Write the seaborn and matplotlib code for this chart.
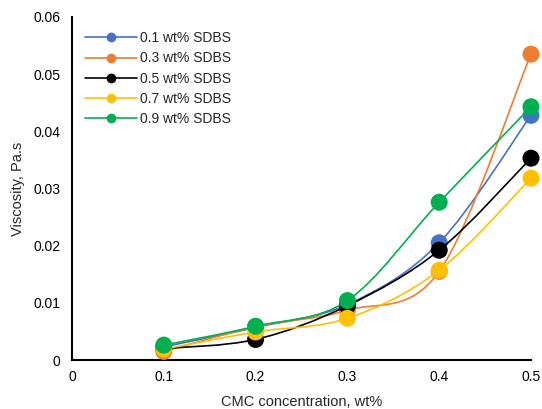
import numpy as np
import pandas as pd
import matplotlib
matplotlib.use("Agg")
import matplotlib.pyplot as plt
import seaborn as sns
from matplotlib.path import Path
from matplotlib.patches import PathPatch
from matplotlib.lines import Line2D

cmc = [0.1, 0.2, 0.3, 0.4, 0.5]
series_names = ["0.1 wt% SDBS", "0.3 wt% SDBS", "0.5 wt% SDBS", "0.7 wt% SDBS", "0.9 wt% SDBS"]
sdbs_01 = [0.0023, 0.0057, 0.0097, 0.0205, 0.0428]
sdbs_03 = [0.0015, 0.0058, 0.0087, 0.0155, 0.0535]
sdbs_05 = [0.0020, 0.0036, 0.0095, 0.0192, 0.0353]
sdbs_07 = [0.0019, 0.0049, 0.0073, 0.0157, 0.0318]
sdbs_09 = [0.0026, 0.0059, 0.0104, 0.0276, 0.0443]
colors = ["#4472C4", "#ED7D31", "#000000", "#FFC000", "#00B050"]

values = [sdbs_01, sdbs_03, sdbs_05, sdbs_07, sdbs_09]
df = pd.DataFrame({
    "x": np.tile(cmc, len(series_names)),
    "y": np.concatenate(values),
    "series": np.repeat(series_names, len(cmc)),
})

sns.set_style("white")
plt.rcParams["font.family"] = ["Liberation Sans", "DejaVu Sans"]

fig = plt.figure(figsize=(5.42, 4.09), dpi=100)
ax = fig.add_axes([72 / 542, 1 - 360 / 409, (531 - 72) / 542, (360 - 17) / 409])


def smooth_path(xs, ys):
    pts = np.column_stack([xs, ys])
    n = len(pts)
    verts = [pts[0]]
    codes = [Path.MOVETO]
    for i in range(n - 1):
        p0 = pts[i - 1] if i > 0 else pts[i]
        p1 = pts[i]
        p2 = pts[i + 1]
        p3 = pts[i + 2] if i + 2 < n else pts[i + 1]
        c1 = p1 + (p2 - p0) / 6.0
        c2 = p2 - (p3 - p1) / 6.0
        verts += [c1, c2, p2]
        codes += [Path.CURVE4] * 3
    return Path(verts, codes)


for k, (name, col) in enumerate(zip(series_names, colors)):
    sub = df[df["series"] == name]
    patch = PathPatch(smooth_path(sub["x"].values, sub["y"].values), facecolor="none",
                      edgecolor=col, lw=1.2, zorder=2 + 2 * k, clip_on=False)
    ax.add_patch(patch)
    sns.scatterplot(data=sub, x="x", y="y", color=col, s=150, edgecolor="none",
                    ax=ax, zorder=3 + 2 * k, legend=False, clip_on=False)

ax.set_xlim(0, 0.5)
ax.set_ylim(0, 0.06)
ax.set_xticks([0, 0.1, 0.2, 0.3, 0.4, 0.5])
ax.set_xticklabels(["0", "0.1", "0.2", "0.3", "0.4", "0.5"])
ax.set_yticks([0, 0.01, 0.02, 0.03, 0.04, 0.05, 0.06])
ax.set_yticklabels(["0", "0.01", "0.02", "0.03", "0.04", "0.05", "0.06"])
ax.tick_params(axis="both", labelsize=10, colors="black")
ax.tick_params(axis="y", length=5, width=1.2, direction="out")
ax.tick_params(axis="x", length=4, width=0.8, color="#555555", direction="in", pad=7)
for s in ["top", "right"]:
    ax.spines[s].set_visible(False)
ax.spines["left"].set_color("black")
ax.spines["left"].set_linewidth(1.5)
ax.spines["bottom"].set_color("black")
ax.spines["bottom"].set_linewidth(1.5)
ax.set_xlabel("CMC concentration, wt%", fontsize=10.5, labelpad=8)
ax.set_ylabel("Viscosity, Pa.s", fontsize=10.5, labelpad=6)

handles = [Line2D([0], [0], color=c, lw=1.2, marker="o", markersize=7, markeredgewidth=0)
           for c in colors]
ax.legend(handles, series_names, loc="upper left", bbox_to_anchor=(0.0, 0.995), frameon=False,
          fontsize=10, handlelength=3.8, labelspacing=0.45, handletextpad=0.2)

fig.savefig("out.png", dpi=100)
